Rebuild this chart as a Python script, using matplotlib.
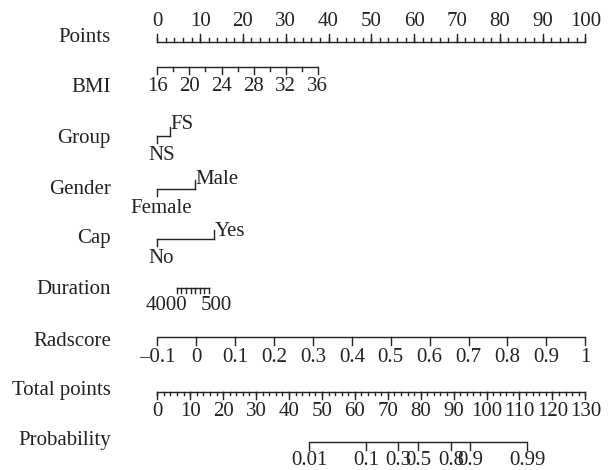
import numpy as np
import matplotlib.pyplot as plt

plt.rcParams['font.family'] = ['Liberation Serif', 'DejaVu Serif']
plt.rcParams['font.size'] = 15

# variable names down the left side
row_names = ['Points', 'BMI', 'Group', 'Gender', 'Cap', 'Duration',
             'Radscore', 'Total points', 'Probability']

# points scale
points_major = np.arange(0, 101, 10)
points_minor = np.arange(0, 101, 2)

# BMI: 16 -> 0 points, 36 -> 37.5 points
bmi_major = [16, 20, 24, 28, 32, 36]
bmi_minor = [18, 22, 26, 30, 34]
bmi_pts_36 = 37.5

# categorical variables (level, points)
group_levels = ['NS', 'FS']
group_points = [0, 3.0]
gender_levels = ['Female', 'Male']
gender_points = [0, 8.8]
cap_levels = ['No', 'Yes']
cap_points = [0, 13.3]

# Duration: 4000 -> 4.5 points, 500 -> 12.1 points
duration_ticks = [4000, 3500, 3000, 2500, 2000, 1500, 1000, 500]
duration_labels = ['4000', '500']
duration_pts = [4.5, 12.1]

# Radscore: -0.1 -> 0, 1 -> 100
rad_ticks = [-0.1, 0, 0.1, 0.2, 0.3, 0.4, 0.5, 0.6, 0.7, 0.8, 0.9, 1.0]
rad_labels = ['\u20130.1', '0', '0.1', '0.2', '0.3', '0.4', '0.5', '0.6',
              '0.7', '0.8', '0.9', '1']

# Total points 0..130
total_major = np.arange(0, 131, 10)
total_minor = np.arange(0, 131, 2)
total_max = 130

# Probability, logistic on total points
prob_ticks = [0.01, 0.1, 0.3, 0.5, 0.8, 0.9, 0.99]
prob_labels = ['0.01', '0.1', '0.3', '0.5', '0.8', '0.9', '0.99']
lp_center = 79.25   # total points where p = 0.5
lp_slope = 0.139    # logit per total point

col = '#222222'
lw = 1.0

fig = plt.figure(figsize=(6.09, 4.70), dpi=100)
ax = fig.add_axes([0, 0, 1, 1])
px = 4.28  # pixels per point unit
x0 = 157.3
ax.set_xlim(-x0 / px, (609 - x0) / px)
ax.set_ylim(470, 0)
ax.axis('off')

# row line positions (pixel y) and name positions
line_y = [42, 67, 136, 189, 239, 288, 337, 392, 442]
name_y = [38, 87, 139, 189, 239, 290, 341, 391, 441]
name_x = (111 - x0) / px

for nm, y in zip(row_names, name_y):
    ax.text(name_x, y, nm, ha='right', va='center', color=col)


def scale_row(y, pos_major, labels, pos_minor=None, up=False, big=8, small=4,
              gap=3):
    pos_major = np.asarray(pos_major, float)
    lo = pos_major.min()
    hi = pos_major.max()
    if pos_minor is not None:
        lo = min(lo, np.min(pos_minor))
        hi = max(hi, np.max(pos_minor))
    ax.plot([lo, hi], [y, y], color=col, lw=lw, solid_capstyle='butt')
    s = -1 if up else 1
    if pos_minor is not None:
        for p in pos_minor:
            ax.plot([p, p], [y, y + s * small], color=col, lw=lw)
    for p in pos_major:
        ax.plot([p, p], [y, y + s * big], color=col, lw=lw)
    if labels is not None:
        for p, lab in zip(pos_major, labels):
            if up:
                ax.text(p, y - big - gap, lab, ha='center', va='bottom',
                        color=col)
            else:
                ax.text(p, y + big + gap, lab, ha='center', va='top',
                        color=col)


# Points
scale_row(line_y[0], points_major, [str(v) for v in points_major],
          points_minor, up=True)

# BMI
bmi_pos = lambda b: (np.asarray(b, float) - 16) * bmi_pts_36 / 20
scale_row(line_y[1], bmi_pos(bmi_major), [str(v) for v in bmi_major],
          bmi_pos(bmi_minor), big=7, small=4)


def cat_row(y, levels, pts, up_off=5):
    ax.plot([pts[0], pts[1]], [y, y], color=col, lw=lw)
    ax.plot([pts[0], pts[0]], [y, y + 7], color=col, lw=lw)
    ax.plot([pts[1], pts[1]], [y, y - 9], color=col, lw=lw)
    ax.text(pts[0] + 1.0, y + 10, levels[0], ha='center', va='top', color=col)
    ax.text(pts[1] + 0.1, y - up_off, levels[1], ha='left', va='baseline',
            color=col)


cat_row(line_y[2], group_levels, group_points, up_off=7)
cat_row(line_y[3], gender_levels, gender_points)
cat_row(line_y[4], cap_levels, cap_points, up_off=3)

# Duration
d_slope = (duration_pts[1] - duration_pts[0]) / (duration_ticks[-1] - duration_ticks[0])
dur_pos = [duration_pts[0] + (d - duration_ticks[0]) * d_slope for d in duration_ticks]
yd = line_y[5]
ax.plot([dur_pos[0], dur_pos[-1]], [yd, yd], color=col, lw=lw)
for p in dur_pos:
    ax.plot([p, p], [yd, yd + 5], color=col, lw=lw)
ax.annotate(duration_labels[0], (dur_pos[0], yd + 8), xytext=(8, 0),
            textcoords='offset points', ha='right', va='top', color=col)
ax.annotate(duration_labels[1], (dur_pos[-1], yd + 8), xytext=(-6, 0),
            textcoords='offset points', ha='left', va='top', color=col)

# Radscore
rad_pos = [(r + 0.1) / 1.1 * 100 for r in rad_ticks]
scale_row(line_y[6], rad_pos, rad_labels)

# Total points
tp = lambda t: np.asarray(t, float) * 100 / total_max
scale_row(line_y[7], tp(total_major), [str(v) for v in total_major],
          tp(total_minor), big=7, small=3)

# Probability
logit = lambda p: np.log(p / (1 - p))
prob_pos = tp([lp_center + logit(p) / lp_slope for p in prob_ticks])
scale_row(line_y[8], prob_pos, prob_labels, big=8, gap=1)

fig.savefig('out.png', dpi=100)
